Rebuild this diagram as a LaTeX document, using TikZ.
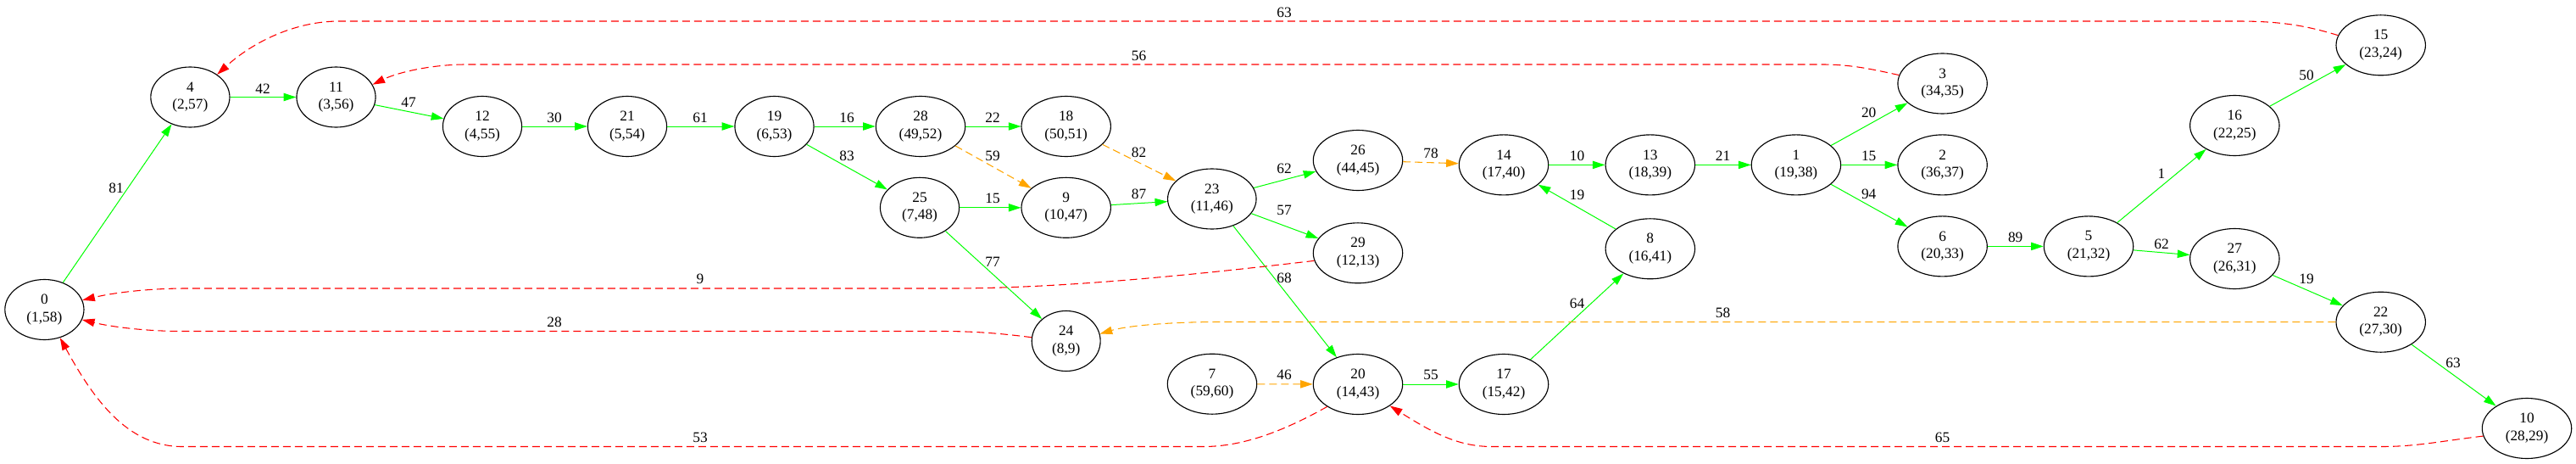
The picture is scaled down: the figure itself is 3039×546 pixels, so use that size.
\documentclass[tikz,border=0pt]{standalone}
\usepackage{fontspec}
\setmainfont{Liberation Serif}
\usetikzlibrary{arrows.meta,shapes.geometric}
\definecolor{eg}{RGB}{0,255,0}
\definecolor{eo}{RGB}{255,165,0}
\definecolor{er}{RGB}{255,0,0}
\begin{document}
\begin{tikzpicture}[x=0.75pt,y=-0.75pt,
  every node/.style={font=\fontsize{13pt}{15.4pt}\selectfont},
  vtx/.style={draw, ellipse, line width=0.85pt, inner xsep=9pt, inner ysep=2pt, minimum height=53.25pt, align=center},
  lab/.style={inner sep=0pt},
  tip/.style={-{Triangle[length=11pt,width=7pt]}},
  tree/.style={draw=eg, line width=0.75pt, tip},
  fwd/.style={draw=eo, line width=0.8pt, dash pattern=on 6.75pt off 3.75pt, tip},
  back/.style={draw=er, line width=0.8pt, dash pattern=on 6.75pt off 3.75pt, tip}]
\useasboundingbox (0,0) rectangle (3039,546);
% nodes
\node[vtx] (n0) at (52.4,365) {0\\(1,58)};
\node[vtx] (n4) at (224.4,114.5) {4\\(2,57)};
\node[vtx] (n11) at (396.5,114.5) {11\\(3,56)};
\node[vtx] (n12) at (569,149) {12\\(4,55)};
\node[vtx] (n21) at (740,149) {21\\(5,54)};
\node[vtx] (n19) at (913.5,149) {19\\(6,53)};
\node[vtx] (n28) at (1086,149) {28\\(49,52)};
\node[vtx] (n18) at (1257.7,149) {18\\(50,51)};
\node[vtx] (n25) at (1085,244.8) {25\\(7,48)};
\node[vtx] (n9) at (1257.7,244.8) {9\\(10,47)};
\node[vtx] (n23) at (1429.8,234.5) {23\\(11,46)};
\node[vtx] (n24) at (1257.7,402) {24\\(8,9)};
\node[vtx] (n7) at (1430,452.7) {7\\(59,60)};
\node[vtx] (n26) at (1602,189) {26\\(44,45)};
\node[vtx] (n29) at (1602,298.3) {29\\(12,13)};
\node[vtx] (n20) at (1602,453) {20\\(14,43)};
\node[vtx] (n14) at (1774,194.4) {14\\(17,40)};
\node[vtx] (n17) at (1774,453) {17\\(15,42)};
\node[vtx] (n13) at (1946.8,194.4) {13\\(18,39)};
\node[vtx] (n8) at (1946.8,293.3) {8\\(16,41)};
\node[vtx] (n1) at (2118.9,194.4) {1\\(19,38)};
\node[vtx] (n3) at (2291.6,98.5) {3\\(34,35)};
\node[vtx] (n2) at (2291.6,194.4) {2\\(36,37)};
\node[vtx] (n6) at (2291.6,290.4) {6\\(20,33)};
\node[vtx] (n5) at (2464,290.4) {5\\(21,32)};
\node[vtx] (n16) at (2636.3,148) {16\\(22,25)};
\node[vtx] (n27) at (2636.3,305) {27\\(26,31)};
\node[vtx] (n15) at (2808.7,53.3) {15\\(23,24)};
\node[vtx] (n22) at (2808.7,379.7) {22\\(27,30)};
\node[vtx] (n10) at (2981,505) {10\\(28,29)};
% tree edges
\draw[tree] (n0) -- (n4);
\draw[tree] (n4) -- (n11);
\draw[tree] (n11) -- (n12);
\draw[tree] (n12) -- (n21);
\draw[tree] (n21) -- (n19);
\draw[tree] (n19) -- (n28);
\draw[tree] (n19) -- (n25);
\draw[tree] (n28) -- (n18);
\draw[tree] (n25) -- (n9);
\draw[tree] (n25) -- (n24);
\draw[tree] (n9) -- (n23);
\draw[tree] (n23) -- (n26);
\draw[tree] (n23) -- (n29);
\draw[tree] (n23) -- (n20);
\draw[tree] (n20) -- (n17);
\draw[tree] (n17) -- (n8);
\draw[tree] (n8) -- (n14);
\draw[tree] (n14) -- (n13);
\draw[tree] (n13) -- (n1);
\draw[tree] (n1) -- (n3);
\draw[tree] (n1) -- (n2);
\draw[tree] (n1) -- (n6);
\draw[tree] (n6) -- (n5);
\draw[tree] (n5) -- (n16);
\draw[tree] (n5) -- (n27);
\draw[tree] (n16) -- (n15);
\draw[tree] (n27) -- (n22);
\draw[tree] (n22) -- (n10);
% forward / cross edges
\draw[fwd] (n28) -- (n9);
\draw[fwd] (n18) -- (n23);
\draw[fwd] (n26) -- (n14);
\draw[fwd] (n7) -- (n20);
\draw[fwd] (n22.west) -- (1440,379.5)
  .. controls (1380,379.5) and (1330,384) .. (n24.12);
% back edges
\draw[back] (n15.167) .. controls (2720,30) and (2690,25) .. (2640,25)
  -- (400,25) .. controls (350,25) and (300,48) .. (n4.40);
\draw[back] (n3.169) .. controls (2210,82) and (2185,76) .. (2150,76)
  -- (550,76) .. controls (510,76) and (470,85) .. (n11.19);
\draw[back] (n29.190) .. controls (1400,325) and (1250,340) .. (1120,340)
  -- (220,340) .. controls (170,340) and (130,346) .. (n0.14);
\draw[back] (n24.174) .. controls (1180,393) and (1150,390.5) .. (1110,390.5)
  -- (215,390.5) .. controls (170,390.5) and (130,385) .. (n0.345);
\draw[back] (n20.216) .. controls (1520,505) and (1470,526.5) .. (1420,526.5)
  -- (215,526.5) .. controls (150,526.5) and (110,470) .. (n0.299);
\draw[back] (n10.190) .. controls (2880,520) and (2850,526.5) .. (2810,526.5)
  -- (1760,526.5) .. controls (1720,526.5) and (1690,510) .. (n20.326);
% edge labels
\node[lab] (l0-4) at (137,222) {81};
\node[lab] (l4-11) at (310,104.5) {42};
\node[lab] (l11-12) at (482,121) {47};
\node[lab] (l12-21) at (654,138.6) {30};
\node[lab] (l21-19) at (826,138.6) {61};
\node[lab] (l19-28) at (999,138.6) {16};
\node[lab] (l19-25) at (999,184) {83};
\node[lab] (l28-18) at (1171,138.6) {22};
\node[lab] (l25-9) at (1171,234) {15};
\node[lab] (l25-24) at (1171,309) {77};
\node[lab] (l9-23) at (1343.5,229) {87};
\node[lab] (l23-26) at (1515,198.5) {62};
\node[lab] (l23-29) at (1515,248) {57};
\node[lab] (l23-20) at (1515,328) {68};
\node[lab] (l20-17) at (1688,442) {55};
\node[lab] (l17-8) at (1860.5,358) {64};
\node[lab] (l8-14) at (1860.5,230) {19};
\node[lab] (l14-13) at (1860.5,184) {10};
\node[lab] (l13-1) at (2032.6,184) {21};
\node[lab] (l1-3) at (2204.7,133) {20};
\node[lab] (l1-2) at (2204.7,184) {15};
\node[lab] (l1-6) at (2204.7,229) {94};
\node[lab] (l6-5) at (2377.7,280) {89};
\node[lab] (l5-16) at (2550,205) {1};
\node[lab] (l5-27) at (2550,288) {62};
\node[lab] (l16-15) at (2721,89) {50};
\node[lab] (l27-22) at (2721,329) {19};
\node[lab] (l22-10) at (2894,428) {63};
\node[lab] (l28-9) at (1171,184) {59};
\node[lab] (l18-23) at (1343.5,180) {82};
\node[lab] (l26-14) at (1688,181) {78};
\node[lab] (l7-20) at (1515,442) {46};
\node[lab] (l22-24) at (2032.6,369) {58};
\node[lab] (l15-4) at (1515,15) {63};
\node[lab] (l3-11) at (1343.5,65.5) {56};
\node[lab] (l29-0) at (826,329) {9};
\node[lab] (l24-0) at (654,380) {28};
\node[lab] (l20-0) at (826,516) {53};
\node[lab] (l10-20) at (2291.6,516) {65};
\end{tikzpicture}
\end{document}
